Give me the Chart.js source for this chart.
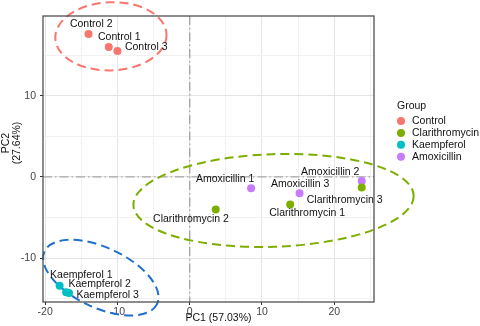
<!DOCTYPE html>
<html>
<head>
<meta charset="utf-8">
<script src="https://cdn.jsdelivr.net/npm/chart.js@4.4.1/dist/chart.umd.min.js"></script>
<style>
  html, body { margin: 0; padding: 0; background: #fff; }
  #wrap { width: 480px; height: 326px; position: relative; }
</style>
</head>
<body>
<div id="wrap"><canvas id="pcaChart" width="480" height="326"></canvas></div>
<script>
// Groups and samples
const groups = ['Control', 'Clarithromycin', 'Kaempferol', 'Amoxicillin'];
const sampleNames = [
    'Control 1', 'Control 2', 'Control 3',
    'Clarithromycin 1', 'Clarithromycin 2', 'Clarithromycin 3',
    'Kaempferol 1', 'Kaempferol 2', 'Kaempferol 3',
    'Amoxicillin 1', 'Amoxicillin 2', 'Amoxicillin 3'
];
const sampleGroup = [0, 0, 0, 1, 1, 1, 2, 2, 2, 3, 3, 3];
const pc1 = [-11.2, -14.0, -10.0, 13.9, 3.6, 23.8, -18.0, -17.1, -16.7, 8.5, 23.8, 15.2];
const pc2 = [16.0, 17.6, 15.5, -3.4, -4.0, -1.3, -13.4, -14.2, -14.3, -1.4, -0.5, -2.0];

// Confidence ellipses (data units), one per drawn group
const ellipseGroup = [0, 1, 2];
const ellipseCx = [-10.9, 11.6, -12.3];
const ellipseCy = [17.3, -2.9, -12.4];
const ellipseRx = [7.7, 19.4, 8.6];
const ellipseRy = [4.2, 5.7, 3.7];
const ellipseAngle = [-2, -2, 25];

// Tick labels
const xTickLabels = [-20, -10, 0, 10, 20];
const yTickLabels = [-10, 0, 10];

// Styles
const groupColors = ['#F8766D', '#7CAE00', '#00BFC4', '#C77CFF'];
const ellipseColors = ['#F8766D', '#7CAE00', '#1F6FCB'];
const fontFamily = '"Liberation Sans", Arial, Helvetica, sans-serif';
// label offsets from the point, in pixels [dx, dy] (text centre)
const labelNudge = [
    [10.5, -10], [2.7, -9.4], [28.8, -3.7],
    [17, 8.7], [-24.7, 10], [-17, 12.7],
    [21.7, -11], [33.6, -8.4], [38.7, 1.7],
    [-26, -8.7], [-31.5, -8.4], [0.5, -9]
];

const datasets = groups.map((g, gi) => ({
    label: g,
    data: pc1.map((x, i) => ({ x: x, y: pc2[i], name: sampleNames[i] }))
        .filter((p, i) => sampleGroup[i] === gi),
    backgroundColor: groupColors[gi],
    borderWidth: 0,
    pointRadius: 4,
    pointHoverRadius: 4
}));

const pcaPlugin = {
    id: 'pcaExtras',
    beforeDatasetsDraw(chart) {
        const { ctx, chartArea, scales } = chart;
        const x = scales.x, y = scales.y;
        // zero reference lines
        ctx.save();
        ctx.strokeStyle = '#a6a6a6';
        ctx.lineWidth = 1.4;
        ctx.setLineDash([9, 3, 1.5, 3]);
        const x0 = x.getPixelForValue(0);
        const y0 = y.getPixelForValue(0);
        ctx.beginPath();
        ctx.moveTo(x0, chartArea.top);
        ctx.lineTo(x0, chartArea.bottom);
        ctx.moveTo(chartArea.left, y0);
        ctx.lineTo(chartArea.right, y0);
        ctx.stroke();
        ctx.restore();

        // ellipses
        ctx.save();
        ctx.lineWidth = 2;
        ctx.setLineDash([9, 5]);
        ellipseGroup.forEach((g, i) => {
            const cx = x.getPixelForValue(ellipseCx[i]);
            const cy = y.getPixelForValue(ellipseCy[i]);
            const rx = Math.abs(x.getPixelForValue(ellipseCx[i] + ellipseRx[i]) - cx);
            const ry = Math.abs(y.getPixelForValue(ellipseCy[i] + ellipseRy[i]) - cy);
            ctx.strokeStyle = ellipseColors[i];
            ctx.beginPath();
            ctx.ellipse(cx, cy, rx, ry, ellipseAngle[i] * Math.PI / 180, 0, Math.PI * 2);
            ctx.stroke();
        });
        ctx.restore();
    },
    afterDatasetsDraw(chart) {
        const { ctx, scales } = chart;
        ctx.save();
        ctx.font = '10.5px ' + fontFamily;
        ctx.fillStyle = '#111';
        ctx.textAlign = 'center';
        ctx.textBaseline = 'middle';
        sampleNames.forEach((name, i) => {
            const px = scales.x.getPixelForValue(pc1[i]);
            const py = scales.y.getPixelForValue(pc2[i]);
            ctx.fillText(name, px + labelNudge[i][0], py + labelNudge[i][1]);
        });
        ctx.restore();
    },
    afterDraw(chart) {
        const { ctx, chartArea } = chart;
        ctx.save();
        // panel border
        ctx.strokeStyle = '#505050';
        ctx.lineWidth = 1.3;
        ctx.strokeRect(chartArea.left, chartArea.top,
            chartArea.right - chartArea.left, chartArea.bottom - chartArea.top);

        // axis titles
        ctx.fillStyle = '#111';
        ctx.font = '10.5px ' + fontFamily;
        ctx.textAlign = 'center';
        ctx.textBaseline = 'middle';
        ctx.fillText('PC1 (57.03%)', (chartArea.left + chartArea.right) / 2 + 10, 318);
        ctx.translate(0, 143);
        ctx.rotate(-Math.PI / 2);
        ctx.fillText('PC2', 0, 6);
        ctx.fillText('(27.64%)', 0, 17);
        ctx.restore();

        // legend
        ctx.save();
        ctx.font = '10.5px ' + fontFamily;
        ctx.fillStyle = '#111';
        ctx.textBaseline = 'middle';
        ctx.textAlign = 'left';
        ctx.fillText('Group', 397, 106);
        groups.forEach((g, i) => {
            const ly = 121 + i * 11.9;
            ctx.fillStyle = groupColors[i];
            ctx.beginPath();
            ctx.arc(401, ly, 4, 0, Math.PI * 2);
            ctx.fill();
            ctx.fillStyle = '#111';
            ctx.fillText(g, 412, ly);
        });
        ctx.restore();
    }
};

const gridColor = (c) => (c.tick && c.tick.value % 10 === 0) ? '#e4e4e4' : '#f1f1f1';
const tickMarkColor = (c) => (c.tick && c.tick.value % 10 === 0) ? '#333' : 'rgba(0,0,0,0)';

new Chart(document.getElementById('pcaChart'), {
    type: 'scatter',
    data: { datasets: datasets },
    options: {
        responsive: false,
        animation: false,
        events: [],
        layout: { padding: { top: 16, right: 106, left: 0, bottom: 0 } },
        plugins: {
            legend: { display: false },
            tooltip: { enabled: false }
        },
        scales: {
            x: {
                type: 'linear',
                min: -20.3,
                max: 25.5,
                afterFit: (s) => { s.height = 24; },
                border: { display: false },
                grid: { color: gridColor, lineWidth: 1, tickLength: 3, tickColor: tickMarkColor, tickWidth: 1 },
                ticks: {
                    stepSize: 5,
                    includeBounds: false,
                    maxRotation: 0,
                    autoSkip: false,
                    padding: 1,
                    color: '#444',
                    font: { family: fontFamily, size: 10.5 },
                    callback: (v) => xTickLabels.includes(v) ? String(v) : ''
                }
            },
            y: {
                type: 'linear',
                min: -15.4,
                max: 19.8,
                afterFit: (s) => { s.width = 43; },
                border: { display: false },
                grid: { color: gridColor, lineWidth: 1, tickLength: 3, tickColor: tickMarkColor, tickWidth: 1 },
                ticks: {
                    stepSize: 5,
                    includeBounds: false,
                    autoSkip: false,
                    padding: 4,
                    color: '#444',
                    font: { family: fontFamily, size: 10.5 },
                    callback: (v) => yTickLabels.includes(v) ? String(v) : ''
                }
            }
        }
    },
    plugins: [pcaPlugin]
});
</script>
</body>
</html>
